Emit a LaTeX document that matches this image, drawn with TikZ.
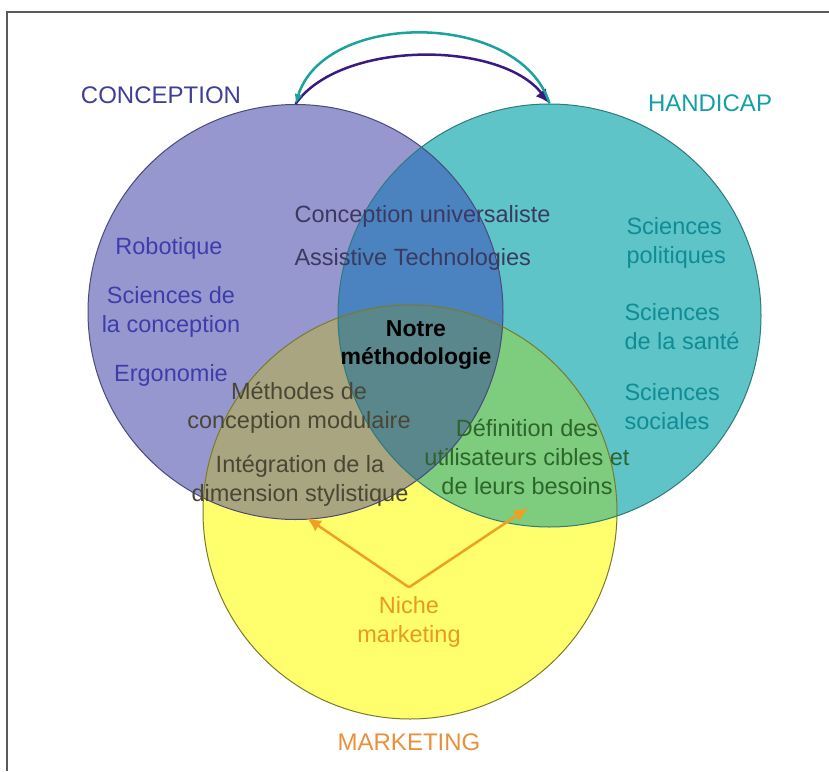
\documentclass[tikz,border=0pt]{standalone}
\usepackage{fontspec}
\setmainfont{Liberation Sans}
\usetikzlibrary{arrows.meta,positioning}
\definecolor{concfill}{HTML}{9797D0}
\definecolor{handfill}{HTML}{5EC4C8}
\definecolor{markfill}{HTML}{FFFF6E}
\definecolor{chfill}{HTML}{4A83BF}
\definecolor{cmfill}{HTML}{A8A580}
\definecolor{hmfill}{HTML}{7ECC7E}
\definecolor{toutfill}{HTML}{5A878C}
\definecolor{concline}{HTML}{4A4A7A}
\definecolor{handline}{HTML}{2E7A7C}
\definecolor{markline}{HTML}{7A7A2A}
\definecolor{conctext}{HTML}{3F3F99}
\definecolor{concitem}{HTML}{3D3DAA}
\definecolor{handtext}{HTML}{14A0A5}
\definecolor{handitem}{HTML}{0F8C96}
\definecolor{marktext}{HTML}{E8913A}
\definecolor{nichetext}{HTML}{E89A1E}
\definecolor{orangearr}{HTML}{F0A020}
\definecolor{tealarr}{HTML}{1AA39E}
\definecolor{purplearr}{HTML}{3A1A80}
\definecolor{inkblue}{HTML}{3A3A60}
\definecolor{inkolive}{HTML}{4A4635}
\definecolor{inkgreen}{HTML}{2D652D}
\definecolor{frame}{HTML}{5A5A5A}
\tikzset{
  cercle/.style={circle, inner sep=0pt, line width=1pt},
  titre/.style={font=\fontsize{24}{29}\selectfont, align=center},
  texte/.style={font=\fontsize{23.5}{29}\selectfont, align=center},
  gauche/.style={texte, anchor=west, align=left},
  cadre/.style={draw=frame, line width=2pt},
  fleche/.style={-{Latex[length=14pt,width=13pt]}, line width=2.5pt}
}
\begin{document}
\begin{tikzpicture}[x=1pt,y=-1pt]
\useasboundingbox (0,0) rectangle (829,771);
\draw[cadre] (829,12) -- (7,12) -- (7,771);
% disques
\fill[concfill] (295.5,312) circle[radius=207.5pt];
\fill[handfill] (549.5,315.5) circle[radius=211.5pt];
\fill[markfill] (410,512) circle[radius=207pt];
\begin{scope}
\clip (549.5,315.5) circle[radius=211.5pt];
\fill[hmfill] (410,512) circle[radius=207pt];
\end{scope}
\begin{scope}
\clip (295.5,312) circle[radius=207.5pt];
\fill[chfill] (549.5,315.5) circle[radius=211.5pt];
\fill[cmfill] (410,512) circle[radius=207pt];
\clip (549.5,315.5) circle[radius=211.5pt];
\fill[toutfill] (410,512) circle[radius=207pt];
\end{scope}
\node[cercle, draw=concline, minimum size=415pt] (cercleC) at (295.5,312) {};
\node[cercle, draw=handline, minimum size=423pt] (cercleH) at (549.5,315.5) {};
\node[cercle, draw=markline, minimum size=414pt] (cercleM) at (410,512) {};
% titres
\node[titre, text=conctext] (conception) at (161,95) {CONCEPTION};
\node[titre, text=handtext] (handicap) at (710,103) {HANDICAP};
\node[titre, text=marktext] (marketing) at (409,742) {MARKETING};
% fleches du haut
\draw[fleche, draw=purplearr] (cercleC.north) .. controls (340,40) and (500,40) .. (cercleH.north);
\draw[-{Latex[length=10pt,width=8pt]}, line width=2.5pt, draw=tealarr] (cercleH.north) .. controls (520,10) and (325,10) .. (cercleC.north);
% conception
\node[texte, text=concitem] (robot) at (169,248) {Robotique};
\node[texte, text=concitem] (scconc) at (171,312) {Sciences de\\la conception};
\node[texte, text=concitem] (ergo) at (171,375) {Ergonomie};
% handicap
\node[gauche, text=handitem] (scpol) at (623,243) {Sciences\\politiques};
\node[gauche, text=handitem] (scsante) at (621,327) {Sciences\\de la santé};
\node[gauche, text=handitem] (scsoc) at (621,407) {Sciences\\sociales};
% intersections
\node[gauche, text=inkblue] (univ) at (291,216) {Conception universaliste};
\node[gauche, text=inkblue] (assist) at (291,259) {Assistive Technologies};
\node[texte, font=\fontsize{23}{28}\selectfont\bfseries] (notre) at (416,345) {Notre\\méthodologie};
\node[texte, text=inkolive] (methodes) at (299,408) {Méthodes de\\conception modulaire};
\node[texte, text=inkolive] (integ) at (300,481) {Intégration de la\\dimension stylistique};
\node[texte, text=inkgreen] (defin) at (527,457) {Définition des\\utilisateurs cibles et\\de leurs besoins};
% niche
\node[texte, text=nichetext, inner ysep=9pt] (niche) at (409,622) {Niche\\marketing};
\coordinate (pointeG) at (307,518);
\coordinate (pointeD) at (528,508);
\draw[fleche, draw=orangearr] (niche.north) -- (pointeG);
\draw[fleche, draw=orangearr] (niche.north) -- (pointeD);
\end{tikzpicture}
\end{document}
